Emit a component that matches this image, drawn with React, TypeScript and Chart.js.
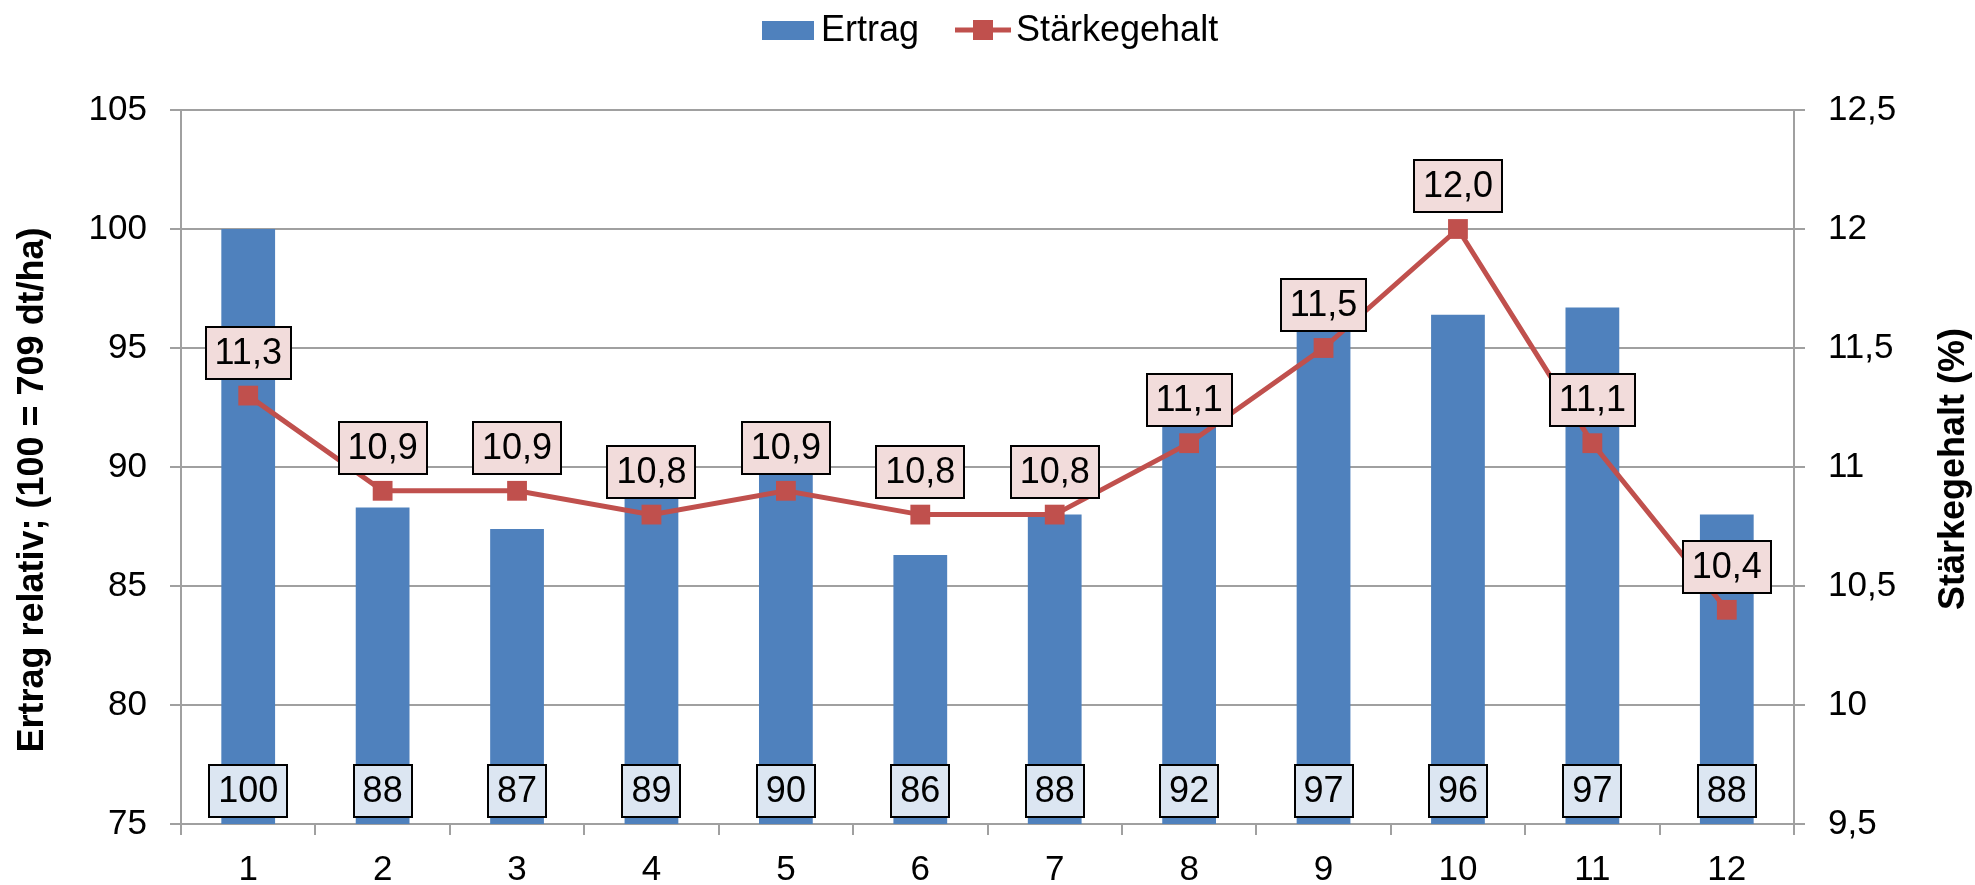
import React, { useEffect, useRef } from 'react';
import { Chart, registerables } from 'chart.js';

Chart.register(...registerables);

const FONT = '"Liberation Sans", Arial, sans-serif';

const categories = ['1', '2', '3', '4', '5', '6', '7', '8', '9', '10', '11', '12'];
const ertrag = [100, 88.3, 87.4, 89, 90, 86.3, 88, 92, 97, 96.4, 96.7, 88];
const staerke = [11.3, 10.9, 10.9, 10.8, 10.9, 10.8, 10.8, 11.1, 11.5, 12.0, 11.1, 10.4];

const leftMin = 75;
const leftMax = 105;
const leftStep = 5;
const rightMin = 9.5;
const rightMax = 12.5;
const rightStep = 0.5;

const seriesNames = ['Ertrag', 'Stärkegehalt'];
const leftTitle = 'Ertrag relativ; (100 = 709 dt/ha)';
const rightTitle = 'Stärkegehalt (%)';

const BLUE = '#4F81BD';
const RED = '#C0504D';
const GRID = '#A0A0A0';

const comma = (v: number, d?: number) =>
  (d === undefined ? String(Number(v.toFixed(2))) : v.toFixed(d)).replace('.', ',');

function drawBox(ctx: CanvasRenderingContext2D, cx: number, cy: number, txt: string, fill: string) {
  const w = Math.round(ctx.measureText(txt).width + 18);
  const h = 52;
  const x = Math.round(cx - w / 2);
  const y = Math.round(cy - h / 2);
  ctx.fillStyle = fill;
  ctx.fillRect(x, y, w, h);
  ctx.lineWidth = 2;
  ctx.strokeStyle = '#000';
  ctx.strokeRect(x, y, w, h);
  ctx.fillStyle = '#000';
  ctx.fillText(txt, cx, cy + 1);
}

const overlay = {
  id: 'overlay',
  afterDatasetsDraw(chart: any) {
    const ctx: CanvasRenderingContext2D = chart.ctx;
    const area = chart.chartArea;
    ctx.save();
    ctx.font = `36px ${FONT}`;
    ctx.textAlign = 'center';
    ctx.textBaseline = 'middle';
    const barMeta = chart.getDatasetMeta(0);
    barMeta.data.forEach((el: any, i: number) => {
      drawBox(ctx, el.x, area.bottom - 33, String(Math.round(ertrag[i])), '#DCE6F2');
    });
    const lineMeta = chart.getDatasetMeta(1);
    lineMeta.data.forEach((el: any, i: number) => {
      drawBox(ctx, el.x, el.y - 43, comma(staerke[i], 1), '#F2DCDB');
    });
    ctx.restore();
  },
  afterDraw(chart: any) {
    const ctx: CanvasRenderingContext2D = chart.ctx;
    ctx.save();
    // legend
    const ly = 30;
    ctx.font = `36px ${FONT}`;
    ctx.textAlign = 'left';
    ctx.textBaseline = 'middle';
    ctx.fillStyle = BLUE;
    ctx.fillRect(762, ly - 9, 52, 19);
    ctx.fillStyle = '#000';
    ctx.fillText(seriesNames[0], 821, ly + 1);
    ctx.strokeStyle = RED;
    ctx.lineWidth = 5;
    ctx.beginPath();
    ctx.moveTo(955, ly);
    ctx.lineTo(1011, ly);
    ctx.stroke();
    ctx.fillStyle = RED;
    ctx.fillRect(973, ly - 10, 20, 20);
    ctx.fillStyle = '#000';
    ctx.fillText(seriesNames[1], 1016, ly + 1);

    // axis titles
    ctx.font = `bold 36px ${FONT}`;
    ctx.textAlign = 'center';
    ctx.textBaseline = 'middle';
    ctx.save();
    ctx.translate(33, 490);
    ctx.rotate(-Math.PI / 2);
    ctx.fillText(leftTitle, 0, 0);
    ctx.restore();
    ctx.save();
    ctx.translate(1954, 469);
    ctx.rotate(-Math.PI / 2);
    ctx.fillText(rightTitle, 0, 0);
    ctx.restore();
    ctx.restore();
  },
};

export default function App() {
  const ref = useRef<HTMLCanvasElement | null>(null);
  useEffect(() => {
    if (!ref.current) return;
    const tickFont = { family: FONT, size: 35 };
    const chart = new Chart(ref.current, {
      type: 'bar',
      data: {
        labels: categories,
        datasets: [
          {
            type: 'bar',
            label: seriesNames[0],
            data: ertrag,
            backgroundColor: BLUE,
            barPercentage: 0.4,
            categoryPercentage: 1.0,
            yAxisID: 'y',
            order: 2,
          } as any,
          {
            type: 'line',
            label: seriesNames[1],
            data: staerke,
            borderColor: RED,
            backgroundColor: RED,
            borderWidth: 5,
            pointStyle: 'rect',
            pointRadius: 14,
            pointBorderWidth: 0,
            pointBackgroundColor: RED,
            tension: 0,
            yAxisID: 'y1',
            order: 1,
          } as any,
        ],
      },
      options: {
        responsive: false,
        animation: false,
        events: [],
        layout: { padding: { top: 110, left: 0, right: 0, bottom: 0 } },
        plugins: {
          legend: { display: false },
          tooltip: { enabled: false },
          title: { display: false },
        },
        scales: {
          x: {
            grid: {
              drawOnChartArea: false,
              drawTicks: true,
              tickLength: 11,
              color: GRID,
              lineWidth: 2,
              offset: true,
            },
            border: { color: GRID, width: 2 },
            ticks: { font: tickFont, color: '#000', padding: 14, maxRotation: 0, autoSkip: false },
            afterFit(s: any) {
              s.height = 61;
              s.paddingLeft = 0;
              s.paddingRight = 0;
            },
          },
          y: {
            position: 'left',
            min: leftMin,
            max: leftMax,
            ticks: { stepSize: leftStep, font: tickFont, color: '#000', padding: 23 },
            grid: { color: GRID, lineWidth: 2, tickLength: 11 },
            border: { color: GRID, width: 2 },
            afterFit(s: any) {
              s.width = 181;
              s.paddingTop = 0;
              s.paddingBottom = 0;
            },
          },
          y1: {
            position: 'right',
            min: rightMin,
            max: rightMax,
            ticks: {
              stepSize: rightStep,
              font: tickFont,
              color: '#000',
              padding: 23,
              callback: (v: any) => comma(Number(v)),
            },
            grid: { drawOnChartArea: false, color: GRID, lineWidth: 2, tickLength: 11 },
            border: { color: GRID, width: 2 },
            afterFit(s: any) {
              s.width = 181;
              s.paddingTop = 0;
              s.paddingBottom = 0;
            },
          },
        },
      } as any,
      plugins: [overlay],
    });
    return () => chart.destroy();
  }, []);
  return (
    <div style={{ position: 'absolute', left: 0, top: 0, width: 1975, height: 885, background: '#fff' }}>
      <canvas ref={ref} width={1975} height={885} style={{ display: 'block' }} />
    </div>
  );
}
